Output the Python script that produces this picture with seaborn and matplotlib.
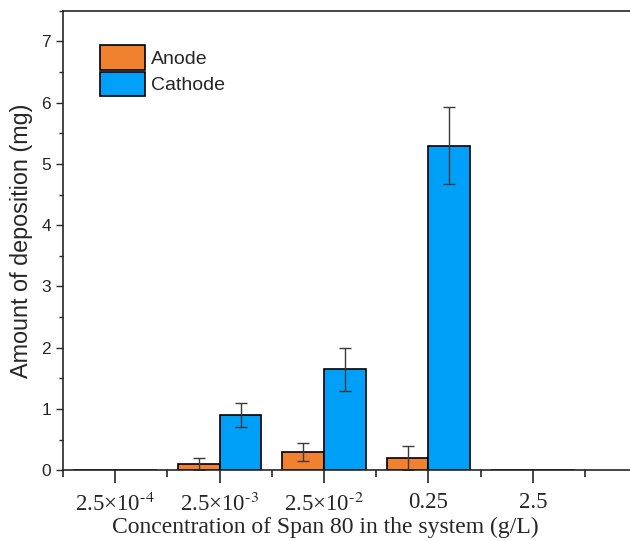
import matplotlib
matplotlib.use("Agg")
import matplotlib.pyplot as plt
from matplotlib.ticker import MultipleLocator
import seaborn as sns
import pandas as pd
import numpy as np

concentrations = ["2.5\u00d710$^{\u2010 4}$", "2.5\u00d710$^{\u2010 3}$",
                  "2.5\u00d710$^{\u2010 2}$", "0.25", "2.5"]
anode = [0.0, 0.1, 0.3, 0.2, 0.0]
anode_err = [0.0, 0.1, 0.15, 0.2, 0.0]
cathode = [0.0, 0.9, 1.65, 5.3, 0.0]
cathode_err = [0.0, 0.2, 0.35, 0.63, 0.0]
electrodes = ["Anode", "Cathode"]
colors = ["#F0822F", "#009FF8"]

df = pd.DataFrame({
    "conc": concentrations * 2,
    "electrode": ["Anode"] * 5 + ["Cathode"] * 5,
    "mass": anode + cathode,
})

sns.set_style("ticks")
plt.rcParams["font.family"] = ["Liberation Sans", "DejaVu Sans"]
plt.rcParams["mathtext.fontset"] = "stix"

fig = plt.figure(figsize=(6.3, 5.41), dpi=100)
ax = fig.add_axes([0.1, 0.131, 0.9, 0.849])

sns.barplot(data=df, x="conc", y="mass", hue="electrode", hue_order=electrodes,
            palette=colors, width=0.8, edgecolor="black", linewidth=1.2,
            saturation=1, errorbar=None, ax=ax)

# error bars at the centres of the drawn bars
errs = anode_err + cathode_err
vals = anode + cathode
bars = [p for p in ax.patches if p.get_width() > 0][:10]
for p, v, e in zip(bars, vals, errs):
    if e > 0:
        ax.errorbar(p.get_x() + p.get_width() / 2, v, yerr=e, fmt="none",
                    ecolor="#3a3a3a", elinewidth=1, capsize=4, capthick=1)

ax.set_ylim(0, 7.5)
ax.set_xlim(-0.5, 4.93)
ax.yaxis.set_major_locator(MultipleLocator(1))
ax.yaxis.set_minor_locator(MultipleLocator(0.5))
ax.set_xticks(range(5))
ax.set_xticks(np.arange(-0.5, 5, 1), minor=True)
ax.set_xticklabels(concentrations, fontfamily="Liberation Serif", fontsize=16.5)
ax.tick_params(axis="y", which="major", length=5, width=1, labelsize=12.5)
ax.tick_params(axis="y", which="minor", length=3, width=1)
ax.tick_params(axis="x", which="major", length=9, width=1.2, pad=7)
ax.tick_params(axis="x", which="minor", length=5, width=1.2)

ax.set_ylabel("Amount of deposition (mg)", fontsize=16.8, labelpad=6)
ax.set_xlabel("Concentration of Span 80 in the system (g/L)",
              fontfamily="Liberation Serif", fontsize=17)
ax.xaxis.set_label_coords(0.462, -0.102)

for s in ["left", "bottom", "top"]:
    ax.spines[s].set_linewidth(1.2)
ax.spines["right"].set_visible(False)

ax.legend(loc="upper left", bbox_to_anchor=(0.052, 0.942), frameon=False,
          fontsize=14, handlelength=2.3, handleheight=1.55, labelspacing=0.12,
          handletextpad=0.3, borderaxespad=0)

fig.savefig("out.png", dpi=100)
